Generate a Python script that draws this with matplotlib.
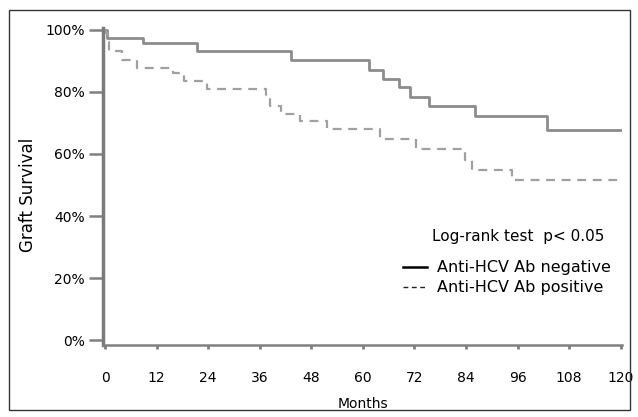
import matplotlib.pyplot as plt
from matplotlib.patches import Rectangle

plt.rcParams['font.family'] = ['DejaVu Sans']

# Kaplan-Meier steps (months, survival fraction)
neg_t = [0, 0.5, 8.7, 21.3, 43.3, 61.5, 64.7, 68.4, 70.9, 75.3, 86.2, 102.9, 120]
neg_s = [1.0, 0.973, 0.957, 0.930, 0.903, 0.871, 0.841, 0.815, 0.783, 0.755, 0.721, 0.678, 0.678]

pos_t = [0, 0.3, 0.6, 1.0, 3.9, 7.4, 15.9, 18.4, 23.6, 37.4, 38.4, 41.0, 45.3, 51.7,
         64.0, 72.3, 83.7, 85.3, 94.6, 120]
pos_s = [1.0, 0.99, 0.96, 0.93, 0.903, 0.877, 0.861, 0.834, 0.809, 0.78, 0.755, 0.729,
         0.705, 0.68, 0.649, 0.616, 0.581, 0.549, 0.515, 0.515]

x_ticks = [0, 12, 24, 36, 48, 60, 72, 84, 96, 108, 120]
y_ticks = [0, 0.2, 0.4, 0.6, 0.8, 1.0]
y_labels = ['0%', '20%', '40%', '60%', '80%', '100%']

fig = plt.figure(figsize=(6.38, 4.17), dpi=100)
ax = fig.add_axes([0.1614, 0.1727, 0.8135, 0.760])

ax.step(neg_t, neg_s, where='post', color='#8c8c8c', lw=2.0)
ax.step(pos_t, pos_s, where='post', color='#a0a0a0', lw=1.6, linestyle=(0, (4, 3)))

ax.set_xlim(-0.5, 120.3)
ax.set_ylim(-0.0145, 1.005)
ax.set_xticks(x_ticks)
ax.set_yticks(y_ticks)
ax.set_yticklabels(y_labels)

for s in ['top', 'right']:
    ax.spines[s].set_visible(False)
ax.spines['left'].set_color('#7a7a7a')
ax.spines['left'].set_linewidth(2.5)
ax.spines['bottom'].set_color('#808080')
ax.spines['bottom'].set_linewidth(1.8)

ax.tick_params(axis='y', length=10, width=1.8, color='#808080', pad=3, labelsize=10)
ax.tick_params(axis='x', length=3, width=2.0, color='#808080', pad=15.5, labelsize=10)

ax.set_xlabel('Months', fontsize=10, labelpad=9)
ax.set_ylabel('Graft Survival', fontsize=12)
ax.yaxis.set_label_coords(-0.127, 0.473)

# legend
h1, = ax.plot([], [], color='black', lw=1.8)
h2, = ax.plot([], [], color='#222222', lw=1.0, linestyle=(0, (3.5, 2.5)))
ax.legend([h1, h2], ['Anti\u2010HCV Ab negative', 'Anti\u2010HCV Ab positive'],
          loc='center left', bbox_to_anchor=(0.6317, 0.3336), bbox_transform=fig.transFigure,
          frameon=False, prop={'size': 11.5},
          handlelength=1.5, handletextpad=0.62,
          labelspacing=0.3, borderaxespad=0, borderpad=0)
fig.text(0.677, 0.434, 'Log\u2010rank test  p< 0.05', fontsize=11, va='center')

fig.patches.append(Rectangle((0.014, 0.017), 0.974, 0.960, transform=fig.transFigure,
                             fill=False, edgecolor='#333333', lw=1.0))

fig.savefig('out.png', dpi=100)
